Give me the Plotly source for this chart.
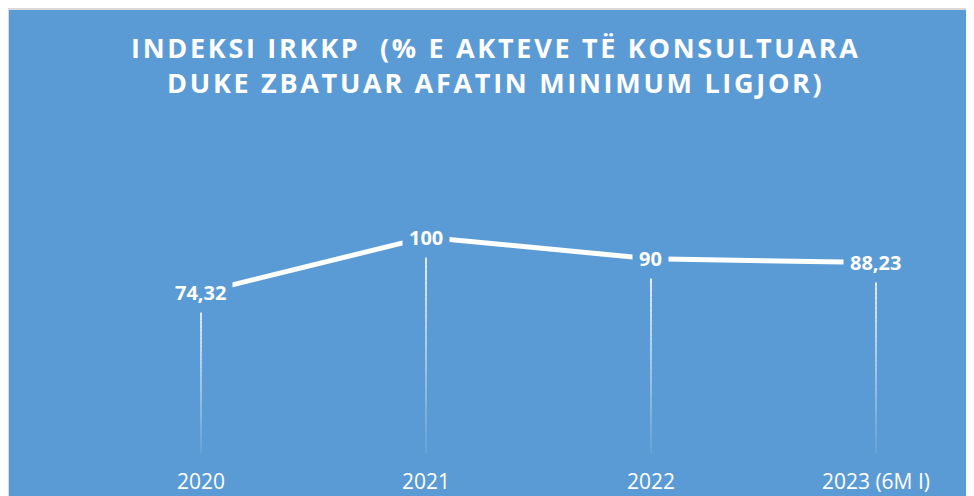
"""
Indeksi IRKKP - line chart with drop lines (Excel-style blue card)
"""
import plotly.graph_objects as go

# data
CATEGORIES = ['2020', '2021', '2022', '2023 (6M I)']
VALUES = [74.32, 100, 90, 88.23]
LABELS = ['74,32', '100', '90', '88,23']

TITLE_LINES = ['INDEKSI IRKKP  (% E AKTEVE TË KONSULTUARA',
               'DUKE ZBATUAR AFATIN MINIMUM LIGJOR)']

BLUE = '#5B9BD5'
W, H = 974, 496
M_L, M_R, M_T, M_B = 60, 14, 186, 51


def spaced(s, gap='\u200a'):
    # poor man's letter-spacing (plotly has none)
    return gap.join(s)


fig = go.Figure()

# drop lines: fade from white (top) to transparent (bottom)
N_SEG = 40
idx = list(range(len(CATEGORIES)))
for k in range(N_SEG):
    xs, ys = [], []
    for i, v in zip(idx, VALUES):
        xs += [i, i, None]
        ys += [v * k / N_SEG, v * (k + 1) / N_SEG, None]
    alpha = 0.06 + 0.84 * (k + 1) / N_SEG
    fig.add_trace(go.Scatter(
        x=xs, y=ys, mode='lines',
        line=dict(color=f'rgba(255,255,255,{alpha:.3f})', width=2),
        hoverinfo='skip', showlegend=False,
    ))

# main line
fig.add_trace(go.Scatter(
    x=idx, y=VALUES, mode='lines',
    line=dict(color='white', width=5),
    showlegend=False,
))

# data labels with background to cut the lines
for i, v, lab in zip(idx, VALUES, LABELS):
    fig.add_annotation(
        x=i, y=v, text=lab, showarrow=False,
        font=dict(family='Open Sans', size=20, color='white', weight='bold'),
        bgcolor=BLUE, borderpad=6,
    )

pw = W - M_L - M_R
ph = H - M_T - M_B

# title
fig.add_annotation(
    xref='paper', yref='paper',
    x=(486 - M_L) / pw, xanchor='center',
    y=(H - 19 - M_B) / ph, yanchor='top',
    text='<br>'.join(spaced(t) for t in TITLE_LINES),
    showarrow=False,
    font=dict(family='Open Sans', size=27, color='white', weight='bold'),
)

# thin grey edge on top/left like the screenshot
fig.add_shape(type='rect', xref='paper', yref='paper', layer='below',
              x0=-M_L / pw, x1=(W + 20 - M_L) / pw,
              y0=-(M_B + 20) / ph, y1=(H - M_B) / ph,
              fillcolor='#D9D9D9', line=dict(width=0))
fig.add_shape(type='rect', xref='paper', yref='paper', layer='below',
              x0=(1 - M_L) / pw, x1=(W + 20 - M_L) / pw,
              y0=-(M_B + 20) / ph, y1=(H - 2 - M_B) / ph,
              fillcolor=BLUE, line=dict(width=0))

fig.update_layout(
    width=W, height=H,
    margin=dict(l=M_L, r=M_R, t=M_T, b=M_B),
    paper_bgcolor=BLUE,
    plot_bgcolor='rgba(0,0,0,0)',
    xaxis=dict(
        tickmode='array', tickvals=idx, ticktext=CATEGORIES,
        range=[-0.591, 3.409], automargin=False,
        showgrid=False, zeroline=False, showline=False,
        ticks='outside', ticklen=10, tickcolor='rgba(0,0,0,0)',
        tickfont=dict(family='Open Sans', size=21, color='white'),
    ),
    yaxis=dict(
        range=[0, 120], visible=False, automargin=False,
    ),
)

fig.write_html('out.html')
